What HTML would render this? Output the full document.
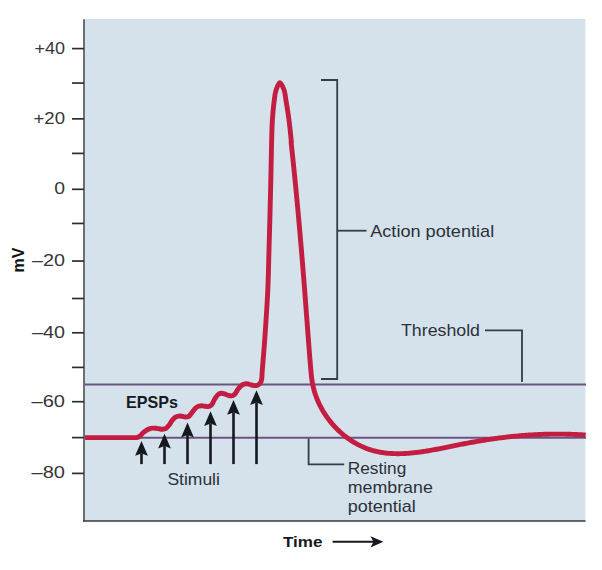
<!DOCTYPE html>
<html><head><meta charset="utf-8"><style>
html,body{margin:0;padding:0;background:#fff;}
svg{display:block;}
text{font-family:"Liberation Sans",sans-serif;}
</style></head><body>
<svg width="602" height="570" viewBox="0 0 602 570">
<rect x="0" y="0" width="602" height="570" fill="#ffffff"/>
<rect x="84" y="19" width="501.4" height="502" fill="#d5e2ec"/>
<line x1="84" y1="19.2" x2="84" y2="521.5" stroke="#5e6369" stroke-width="1.8"/>
<line x1="83.1" y1="521.05" x2="585.6" y2="521.05" stroke="#35393d" stroke-width="1.6"/>
<line x1="72" y1="48.60" x2="84" y2="48.60" stroke="#2a2e33" stroke-width="1.7"/><line x1="72" y1="83.05" x2="84" y2="83.05" stroke="#2a2e33" stroke-width="1.7"/><line x1="72" y1="118.85" x2="84" y2="118.85" stroke="#2a2e33" stroke-width="1.7"/><line x1="72" y1="153.40" x2="84" y2="153.40" stroke="#2a2e33" stroke-width="1.7"/><line x1="72" y1="189.30" x2="84" y2="189.30" stroke="#2a2e33" stroke-width="1.7"/><line x1="72" y1="223.45" x2="84" y2="223.45" stroke="#2a2e33" stroke-width="1.7"/><line x1="72" y1="261.05" x2="84" y2="261.05" stroke="#2a2e33" stroke-width="1.7"/><line x1="72" y1="298.50" x2="84" y2="298.50" stroke="#2a2e33" stroke-width="1.7"/><line x1="72" y1="332.80" x2="84" y2="332.80" stroke="#2a2e33" stroke-width="1.7"/><line x1="72" y1="367.40" x2="84" y2="367.40" stroke="#2a2e33" stroke-width="1.7"/><line x1="72" y1="401.70" x2="84" y2="401.70" stroke="#2a2e33" stroke-width="1.7"/><line x1="72" y1="437.60" x2="84" y2="437.60" stroke="#2a2e33" stroke-width="1.7"/><line x1="72" y1="473.40" x2="84" y2="473.40" stroke="#2a2e33" stroke-width="1.7"/>
<g font-size="16.3" fill="#363636"><text x="65" y="53.5" text-anchor="end" textLength="30.5" lengthAdjust="spacingAndGlyphs">+40</text><text x="65" y="123.8" text-anchor="end" textLength="31.5" lengthAdjust="spacingAndGlyphs">+20</text><text x="65" y="194.2" text-anchor="end" textLength="10.8" lengthAdjust="spacingAndGlyphs">0</text><text x="65" y="265.9" text-anchor="end" textLength="33.0" lengthAdjust="spacingAndGlyphs">–20</text><text x="65" y="337.7" text-anchor="end" textLength="33.0" lengthAdjust="spacingAndGlyphs">–40</text><text x="65" y="406.6" text-anchor="end" textLength="33.5" lengthAdjust="spacingAndGlyphs">–60</text><text x="65" y="478.3" text-anchor="end" textLength="33.5" lengthAdjust="spacingAndGlyphs">–80</text></g>
<text transform="translate(23.8,260) rotate(-90)" text-anchor="middle" font-size="16" font-weight="bold" fill="#111">mV</text>
<line x1="85" y1="384.5" x2="586" y2="384.5" stroke="#6c5480" stroke-width="2"/>
<line x1="85" y1="437.8" x2="586" y2="437.8" stroke="#6c5480" stroke-width="2"/>
<path d="M85.00,437.60 C101.00,437.60 125.50,437.77 133.00,437.60 C135.30,437.55 136.25,437.76 137.50,437.40 C138.49,437.12 139.19,436.63 140.00,436.00 C140.97,435.24 141.79,433.90 142.80,433.00 C143.79,432.11 144.90,431.29 146.00,430.60 C147.06,429.93 148.17,429.32 149.30,428.90 C150.38,428.50 151.48,428.20 152.60,428.10 C153.72,428.00 154.88,428.18 156.00,428.30 C157.11,428.42 158.20,428.65 159.30,428.80 C160.40,428.95 161.50,429.28 162.60,429.20 C163.73,429.12 164.96,428.91 166.00,428.30 C167.19,427.60 168.21,426.24 169.20,425.00 C170.29,423.64 171.09,421.74 172.20,420.40 C173.21,419.17 174.33,417.92 175.50,417.20 C176.49,416.59 177.53,416.25 178.60,416.10 C179.69,415.94 180.88,416.15 182.00,416.30 C183.11,416.45 184.20,416.97 185.30,417.00 C186.40,417.03 187.59,417.06 188.60,416.50 C189.84,415.80 190.80,413.94 191.90,412.60 C193.04,411.21 194.07,409.39 195.30,408.30 C196.33,407.39 197.46,406.71 198.60,406.30 C199.66,405.91 200.80,405.80 201.90,405.80 C203.00,405.80 204.12,406.17 205.20,406.30 C206.25,406.43 207.29,406.79 208.30,406.60 C209.39,406.40 210.56,405.91 211.50,405.00 C212.77,403.76 213.47,400.98 214.60,399.20 C215.65,397.54 216.72,395.58 218.00,394.60 C219.01,393.83 220.18,393.41 221.30,393.30 C222.39,393.19 223.51,393.58 224.60,393.90 C225.74,394.24 226.86,394.96 228.00,395.30 C229.09,395.62 230.22,396.05 231.30,395.90 C232.43,395.75 233.61,395.17 234.60,394.30 C235.87,393.19 236.76,390.78 237.90,389.30 C238.90,387.99 239.90,386.69 241.00,385.80 C241.95,385.03 242.97,384.45 244.00,384.10 C244.97,383.77 246.01,383.64 247.00,383.70 C248.01,383.76 249.00,384.22 250.00,384.50 C251.00,384.78 251.99,385.22 253.00,385.40 C253.99,385.58 255.05,385.74 256.00,385.60 C256.91,385.46 257.81,385.19 258.60,384.60 C259.58,383.88 260.58,382.85 261.20,381.30 C262.22,378.75 261.89,374.67 262.30,370.00 C262.97,362.40 263.90,351.27 264.70,340.00 C265.73,325.45 267.08,305.74 267.80,290.00 C268.45,275.93 268.58,264.68 269.00,250.00 C269.51,232.02 270.15,208.89 270.60,190.00 C271.00,173.11 271.23,154.92 271.60,142.00 C271.85,133.25 271.93,127.15 272.40,120.00 C272.85,113.17 273.54,105.51 274.30,100.00 C274.84,96.08 275.09,92.99 276.10,90.00 C277.00,87.33 278.48,82.84 279.80,82.80 C281.14,82.76 283.09,87.30 284.10,90.00 C285.21,92.97 285.25,96.09 285.90,100.00 C286.82,105.52 288.10,113.16 289.00,120.00 C289.94,127.15 290.60,134.67 291.40,142.00 L291.09,142.03 L291.22,143.21 L291.35,144.40 L291.48,145.58 L291.60,146.76 L291.73,147.94 L291.86,149.12 L291.98,150.30 L292.11,151.49 L292.23,152.67 L292.36,153.85 L292.48,155.03 L292.61,156.22 L292.73,157.40 L292.85,158.58 L292.98,159.76 L293.10,160.95 L293.22,162.13 L293.34,163.31 L293.47,164.49 L293.59,165.68 L293.71,166.86 L293.83,168.04 L293.95,169.23 L294.07,170.41 L294.19,171.59 L294.31,172.78 L294.43,173.96 L294.55,175.14 L294.66,176.33 L294.78,177.51 L294.90,178.69 L295.02,179.88 L295.13,181.06 L295.25,182.25 L295.37,183.43 L295.48,184.61 L295.60,185.80 L295.71,186.98 L295.83,188.17 L295.94,189.35 L296.06,190.53 L296.17,191.72 L296.28,192.90 L296.40,194.09 L296.51,195.27 L296.62,196.46 L296.74,197.64 L296.85,198.82 L296.96,200.01 L297.07,201.19 L297.18,202.38 L297.29,203.56 L297.40,204.75 L297.51,205.93 L297.62,207.12 L297.73,208.30 L297.84,209.48 L297.95,210.67 L298.06,211.85 L298.17,213.04 L298.28,214.22 L298.38,215.41 L298.49,216.59 L298.60,217.78 L298.71,218.96 L298.81,220.15 L298.92,221.33 L299.03,222.52 L299.13,223.70 L299.24,224.89 L299.34,226.07 L299.45,227.26 L299.55,228.44 L299.66,229.62 L299.76,230.81 L299.86,231.99 L299.97,233.18 L300.07,234.36 L300.17,235.55 L300.28,236.73 L300.38,237.92 L300.48,239.10 L300.58,240.29 L300.68,241.47 L300.79,242.66 L300.89,243.84 L300.99,245.02 L301.09,246.21 L301.19,247.39 L301.29,248.58 L301.39,249.76 L301.49,250.95 L301.59,252.13 L301.69,253.32 L301.79,254.50 L301.88,255.68 L301.98,256.87 L302.08,258.05 L302.18,259.24 L302.28,260.42 L302.37,261.60 L302.47,262.79 L302.57,263.97 L302.66,265.16 L302.76,266.34 L302.86,267.52 L302.95,268.71 L303.05,269.89 L303.14,271.07 L303.24,272.26 L303.33,273.44 L303.43,274.62 L303.52,275.81 L303.62,276.99 L303.71,278.17 L303.80,279.36 L303.90,280.54 L303.99,281.72 L304.08,282.91 L304.18,284.09 L304.27,285.27 L304.36,286.45 L304.45,287.64 L304.55,288.82 L304.64,290.00 L304.73,291.18 L304.82,292.37 L304.91,293.55 L305.00,294.73 L305.09,295.91 L305.18,297.10 L305.28,298.28 L305.37,299.46 L305.46,300.64 L305.55,301.82 L305.64,303.01 L305.73,304.19 L305.82,305.37 L305.91,306.55 L305.99,307.73 L306.08,308.92 L306.17,310.10 L306.26,311.28 L306.35,312.46 L306.44,313.64 L306.53,314.83 L306.62,316.01 L306.71,317.19 L306.80,318.37 L306.89,319.56 L306.98,320.74 L307.07,321.92 L307.16,323.11 L307.25,324.29 L307.34,325.47 L307.43,326.66 L307.52,327.84 L307.60,329.02 L307.69,330.21 L307.78,331.39 L307.87,332.58 L307.96,333.76 L308.06,334.95 L308.15,336.13 L308.24,337.32 L308.33,338.50 L308.42,339.69 L308.51,340.87 L308.60,342.06 L308.69,343.25 L308.78,344.43 L308.88,345.62 L308.97,346.81 L309.06,348.00 L309.15,349.18 L309.25,350.37 L309.34,351.56 L309.43,352.75 L309.53,353.94 L309.62,355.13 L309.71,356.32 L309.81,357.51 L309.90,358.70 L310.00,359.89 L310.10,361.08 L310.19,362.28 L310.29,363.47 L310.38,364.66 L310.48,365.85 L310.58,367.05 L310.68,368.24 L310.78,369.43 L310.88,370.63 L310.99,371.82 L311.11,373.01 L311.23,374.20 L311.36,375.39 L311.50,376.58 L311.64,377.77 L311.80,378.95 L311.97,380.13 L312.15,381.31 L312.35,382.49 L312.56,383.66 L312.79,384.83 L313.04,386.00 L313.30,387.16 L313.58,388.32 L313.88,389.47 L314.19,390.62 L314.53,391.77 L314.88,392.91 L315.24,394.04 L315.62,395.17 L316.02,396.30 L316.44,397.42 L316.87,398.53 L317.32,399.64 L317.78,400.74 L318.26,401.83 L318.75,402.92 L319.26,404.01 L319.78,405.08 L320.32,406.15 L320.87,407.21 L321.44,408.27 L322.02,409.31 L322.62,410.35 L323.23,411.38 L323.85,412.40 L324.49,413.42 L325.14,414.43 L325.80,415.42 L326.48,416.41 L327.17,417.39 L327.87,418.36 L328.59,419.32 L329.31,420.27 L330.05,421.22 L330.80,422.15 L331.56,423.07 L332.34,423.98 L333.12,424.88 L333.92,425.77 L334.73,426.65 L335.55,427.52 L336.38,428.38 L337.22,429.23 L338.07,430.06 L338.93,430.88 L339.80,431.69 L340.68,432.49 L341.57,433.28 L342.47,434.05 L343.38,434.82 L344.30,435.56 L345.22,436.30 L346.16,437.02 L347.10,437.73 L348.06,438.43 L349.02,439.11 L349.99,439.78 L350.96,440.43 L351.95,441.07 L352.94,441.69 L353.94,442.30 L354.95,442.90 L355.96,443.48 L356.98,444.04 L358.01,444.59 L359.04,445.13 L360.08,445.65 L361.13,446.15 L362.18,446.63 L363.24,447.10 L364.30,447.56 L365.37,447.99 L366.44,448.41 L367.52,448.82 L368.61,449.20 L369.69,449.57 L370.79,449.92 L371.89,450.26 L372.99,450.57 L374.09,450.87 L375.20,451.15 L376.32,451.42 L377.44,451.67 L378.56,451.90 L379.68,452.12 L380.81,452.32 L381.95,452.51 L383.08,452.68 L384.22,452.84 L385.37,452.98 L386.52,453.11 L387.67,453.23 L388.82,453.33 L389.98,453.42 L391.14,453.49 L392.30,453.56 L393.46,453.61 L394.63,453.64 L395.80,453.67 L396.97,453.68 L398.15,453.69 L399.33,453.68 L400.51,453.66 L401.69,453.63 L402.88,453.59 L404.06,453.54 L405.25,453.47 L406.44,453.40 L407.63,453.32 L408.83,453.23 L410.02,453.14 L411.22,453.03 L412.42,452.92 L413.62,452.79 L414.82,452.66 L416.02,452.52 L417.23,452.38 L418.43,452.22 L419.64,452.06 L420.84,451.90 L422.05,451.72 L423.26,451.55 L424.47,451.36 L425.68,451.17 L426.89,450.98 L428.10,450.78 L429.31,450.57 L430.52,450.36 L431.73,450.15 L432.94,449.93 L434.15,449.71 L435.36,449.49 L436.57,449.26 L437.78,449.03 L438.99,448.79 L440.20,448.56 L441.41,448.32 L442.61,448.08 L443.82,447.84 L445.03,447.60 L446.23,447.36 L447.44,447.11 L448.64,446.87 L449.84,446.62 L451.04,446.38 L452.24,446.13 L453.44,445.89 L454.64,445.64 L455.83,445.40 L457.03,445.16 L458.22,444.92 L459.41,444.68 L460.59,444.45 L461.78,444.21 L462.96,443.98 L464.15,443.75 L465.33,443.53 L466.51,443.30 L467.68,443.08 L468.86,442.86 L470.03,442.64 L471.20,442.43 L472.37,442.22 L473.54,442.01 L474.71,441.80 L475.88,441.59 L477.04,441.39 L478.21,441.19 L479.37,441.00 L480.53,440.80 L481.69,440.61 L482.85,440.42 L484.01,440.23 L485.16,440.05 L486.32,439.86 L487.48,439.68 L488.63,439.51 L489.79,439.33 L490.94,439.16 L492.09,438.99 L493.24,438.83 L494.40,438.66 L495.55,438.50 L496.70,438.34 L497.85,438.19 L499.00,438.03 L500.15,437.88 L501.30,437.74 L502.45,437.59 L503.60,437.45 L504.75,437.31 L505.89,437.17 L507.04,437.04 L508.19,436.91 L509.34,436.78 L510.49,436.65 L511.64,436.53 L512.79,436.41 L513.95,436.29 L515.10,436.18 L516.25,436.07 L517.40,435.96 L518.55,435.86 L519.71,435.75 L520.86,435.66 L522.02,435.56 L523.17,435.47 L524.33,435.37 L525.49,435.29 L526.64,435.20 L527.80,435.12 L528.96,435.04 L530.13,434.97 L531.29,434.90 L532.45,434.83 L533.62,434.76 L534.78,434.70 L535.95,434.64 L537.12,434.58 L538.29,434.53 L539.47,434.48 L540.64,434.43 L541.81,434.38 L542.99,434.34 L544.17,434.31 L545.35,434.27 L546.53,434.24 L547.72,434.21 L548.90,434.19 L550.09,434.16 L551.28,434.15 L552.48,434.13 L553.67,434.12 L554.87,434.11 L556.07,434.10 L557.27,434.10 L558.47,434.10 L559.68,434.11 L560.89,434.12 L562.10,434.13 L563.31,434.14 L564.53,434.16 L565.75,434.18 L566.97,434.21 L568.19,434.24 L569.42,434.27 L570.65,434.30 L571.89,434.34 L573.12,434.38 L574.36,434.43 L575.60,434.48 L576.85,434.53 L578.10,434.59 L579.35,434.65 L580.61,434.71 L581.86,434.78 L583.13,434.85 L584.39,434.92 L585.66,435.00 L585.66,435.00" fill="none" stroke="#c31d42" stroke-width="4.9" stroke-linejoin="round" stroke-linecap="butt"/>
<line x1="141.5" y1="453.4" x2="141.5" y2="464.1" stroke="#15191d" stroke-width="2.6"/><path d="M141.5,441.0 L147.9,455.8 L141.5,453.4 L135.1,455.8 Z" fill="#15191d"/><line x1="164.5" y1="446.1" x2="164.5" y2="464.1" stroke="#15191d" stroke-width="2.6"/><path d="M164.5,433.7 L170.9,448.5 L164.5,446.1 L158.1,448.5 Z" fill="#15191d"/><line x1="187.5" y1="435.0" x2="187.5" y2="464.1" stroke="#15191d" stroke-width="2.6"/><path d="M187.5,422.6 L193.9,437.4 L187.5,435.0 L181.1,437.4 Z" fill="#15191d"/><line x1="210.5" y1="423.6" x2="210.5" y2="464.1" stroke="#15191d" stroke-width="2.6"/><path d="M210.5,411.2 L216.9,426.0 L210.5,423.6 L204.1,426.0 Z" fill="#15191d"/><line x1="233.5" y1="412.4" x2="233.5" y2="464.1" stroke="#15191d" stroke-width="2.6"/><path d="M233.5,400.0 L239.9,414.8 L233.5,412.4 L227.1,414.8 Z" fill="#15191d"/><line x1="256.5" y1="402.6" x2="256.5" y2="464.1" stroke="#15191d" stroke-width="2.6"/><path d="M256.5,390.2 L262.9,405.0 L256.5,402.6 L250.1,405.0 Z" fill="#15191d"/>
<g stroke="#363d44" stroke-width="1.8" fill="none">
<polyline points="321,80 337.2,80 337.2,379 321,379"/>
<line x1="337.2" y1="230.7" x2="366.5" y2="230.7"/>
<polyline points="485,330.4 522,330.4 522,382"/>
<polyline points="308.6,438.5 308.6,464.4 344.2,464.4"/>
</g>
<g font-size="17" fill="#2b3138">
<text x="370.2" y="237.1" textLength="124" lengthAdjust="spacingAndGlyphs">Action potential</text>
<text x="401" y="336.2" textLength="79" lengthAdjust="spacingAndGlyphs">Threshold</text>
<text x="347.8" y="473.6" textLength="58.5" lengthAdjust="spacingAndGlyphs">Resting</text>
<text x="347.8" y="492.9" textLength="85" lengthAdjust="spacingAndGlyphs">membrane</text>
<text x="347.8" y="511.5" textLength="68" lengthAdjust="spacingAndGlyphs">potential</text>
<text x="167.4" y="484.6" textLength="52.5" lengthAdjust="spacingAndGlyphs">Stimuli</text>
</g>
<text x="126" y="407.7" font-size="16.5" font-weight="bold" fill="#161a1f" textLength="52" lengthAdjust="spacingAndGlyphs">EPSPs</text>
<text x="283" y="547" font-size="15.5" font-weight="bold" fill="#161a1f" textLength="39.5" lengthAdjust="spacingAndGlyphs">Time</text>
<line x1="332.6" y1="541.8" x2="376" y2="541.8" stroke="#161a1f" stroke-width="2"/>
<path d="M383.4,541.8 L370.5,536.2 L373.5,541.8 L370.5,547.4 Z" fill="#161a1f"/>
</svg>
</body></html>
